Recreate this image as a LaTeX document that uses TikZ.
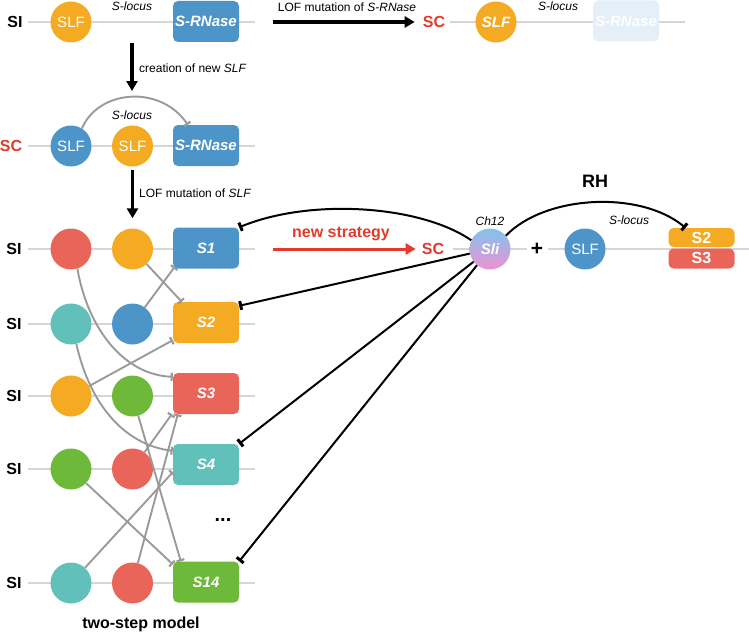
\documentclass[tikz,border=0pt]{standalone}
\usepackage{fontspec}
\setmainfont{Liberation Sans}
\usepackage{xcolor}
\usepackage{tikz}
\usetikzlibrary{arrows.meta}

\definecolor{sorange}{HTML}{F4AA22}
\definecolor{sblue}{HTML}{4D94C9}
\definecolor{sred}{HTML}{E9655A}
\definecolor{steal}{HTML}{62C0BB}
\definecolor{sgreen}{HTML}{6EB83A}
\definecolor{scred}{HTML}{E33A2C}
\definecolor{locusgray}{HTML}{D6D6D6}
\definecolor{linkgray}{HTML}{9A9A9A}
\definecolor{ghost}{HTML}{E5EFF8}
\definecolor{slitop}{HTML}{80C4EC}
\definecolor{slibot}{HTML}{EE90D2}

\newcommand{\fsz}[1]{\fontsize{#1}{#1}\selectfont}

\begin{document}
\begin{tikzpicture}[x=1pt,y=-1pt,
		gene/.style={circle,minimum size=41pt,inner sep=0pt,text=white,font=\fsz{15}},
		sbox/.style={rounded corners=5pt,minimum width=66pt,minimum height=41pt,inner sep=0pt,text=white,font=\fsz{15}\bfseries\itshape},
		locus/.style={locusgray,line width=2pt},
		tag/.style={inner sep=0pt,font=\fsz{16}\bfseries},
		note/.style={inner sep=0pt,font=\fsz{12}\itshape},
		say/.style={inner sep=0pt,font=\fsz{12}},
		link/.style={linkgray,line width=1.9pt,-{Bar[width=8pt,line width=2.2pt]}},
		block/.style={line width=2pt,-{Bar[width=9pt,line width=3pt]}},
		go/.style={line width=3.5pt,-{Triangle[length=10pt,width=11pt]}}]
		\useasboundingbox (0,0) rectangle (749,634);
		% chromosome lines
		\draw[locus] (28,22) -- (255,22);
		\draw[locus] (450,22) -- (685,22);
		\draw[locus] (28,146) -- (255,146);
		\draw[locus] (28,249) -- (255,249);
		\draw[locus] (28,324) -- (255,324);
		\draw[locus] (28,396) -- (255,396);
		\draw[locus] (28,469) -- (255,469);
		\draw[locus] (28,583) -- (255,583);
		\draw[locus] (453,249) -- (527,249);
		\draw[locus] (548,249) -- (749,249);

		% top row
		\node[tag] (siA) at (15,22) {SI};
		\node[gene,fill=sorange] (slfA) at (71,22) {SLF};
		\node[sbox,fill=sblue] (rnA) at (206,21.5) {S-RNase};
		\node[note] at (132,6) {S-locus};
		\coordinate (lofA) at (273,22);
		\node[tag,text=scred] (scC) at (434,22) {SC};
		\node[gene,fill=sorange,font=\fsz{15}\bfseries\itshape] (slfC) at (496,22) {SLF};
		\node[sbox,fill=ghost] (rnC) at (626,21) {S-RNase};
		\node[note] at (558,6) {S-locus};
		\draw[go] (lofA) -- (scC.west) [shorten >=8pt];
		\node[say] at (347,7) {LOF mutation of \textit{S-RNase}};

		\coordinate (dnA) at (132,43);
		\coordinate (dnB) at (132,91);
		\draw[go] (dnA) -- (dnB);
		\node[say,anchor=west] at (139,68) {creation of new \textit{SLF}};

		% SC row
		\node[tag,text=scred] (scB) at (11,146) {SC};
		\node[gene,fill=sblue] (slfB1) at (71,146) {SLF};
		\node[gene,fill=sorange] (slfB2) at (132.5,146) {SLF};
		\node[sbox,fill=sblue] (rnB) at (206,145.5) {S-RNase};
		\node[note] at (132,115) {S-locus};
		\draw[link] (slfB1.58) .. controls (98,90) and (160,84) .. ([xshift=15pt]rnB.north west);

		% two-step model rows
		\node[tag] (si1) at (14,249) {SI};
		\node[gene,fill=sred] (a1) at (71,249) {};
		\node[gene,fill=sorange] (b1) at (132.5,249) {};
		\node[sbox,fill=sblue] (s1) at (206,248) {S1};
		\node[tag] (si2) at (14,324) {SI};
		\node[gene,fill=steal] (a2) at (71,324) {};
		\node[gene,fill=sblue] (b2) at (132.5,324) {};
		\node[sbox,fill=sorange] (s2) at (206,322.5) {S2};
		\node[tag] (si3) at (14,396) {SI};
		\node[gene,fill=sorange] (a3) at (71,396) {};
		\node[gene,fill=sgreen] (b3) at (132.5,396) {};
		\node[sbox,fill=sred] (s3) at (206,393.5) {S3};
		\node[tag] (si4) at (14,469) {SI};
		\node[gene,fill=sgreen] (a4) at (71,469) {};
		\node[gene,fill=sred] (b4) at (132.5,469) {};
		\node[sbox,fill=steal] (s4) at (206,464.5) {S4};
		\node[tag] (si14) at (14,583) {SI};
		\node[gene,fill=steal] (a14) at (71,583) {};
		\node[gene,fill=sred] (b14) at (132.5,583) {};
		\node[sbox,fill=sgreen] (s14) at (206,582) {S14};
		\node[tag,font=\fsz{20}\bfseries] at (223,520) {...};
		\node[tag] at (141,624) {two-step model};
		\draw[go] (slfB2) -- (b1) [shorten <=3.5pt,shorten >=10pt];
		\node[say,anchor=west] at (139,193) {LOF mutation of \textit{SLF}};

		\draw[link] (a1.-72) .. controls (88,330) and (125,375) .. ([yshift=-4pt]s3.north west);
		\draw[link] (b1) -- ([xshift=9pt]s2.north west);
		\draw[link] (b2) -- ([xshift=2pt,yshift=2pt]s1.south west);
		\draw[link] (a2.-75) .. controls (90,405) and (125,445) .. ([yshift=-7pt]s4.north west);
		\draw[link] (a3) -- ([yshift=3pt]s2.south west);
		\draw[link] (b3) -- ([xshift=8pt]s14.north west);
		\draw[link] (b4) -- ([xshift=-1pt]s3.south west);
		\draw[link] (b14) -- ([xshift=5pt]s3.south west);
		\draw[link] (a4) -- ([yshift=-3pt]s14.north west);
		\draw[link] (a14) -- ([yshift=13pt]s4.south west);

		% new strategy
		\coordinate (nsA) at (273,249);
		\node[tag,text=scred] (scD) at (433,249) {SC};
		\draw[go,scred,line width=3pt] (nsA) -- (scD.west) [shorten >=6pt];
		\node[tag,text=scred] at (341,234) {new strategy};
		\node[gene,top color=slitop,bottom color=slibot,font=\fsz{15}\bfseries\itshape] (sli) at (490,249) {Sli};
		\node[note] at (490,221) {Ch12};
		\node[tag,font=\fsz{21}\bfseries] at (537,249) {+};
		\node[gene,fill=sblue] (slfD) at (585,249) {SLF};
		\node[note] at (629,220) {S-locus};
		\node[sbox,fill=sorange,minimum height=19pt,font=\fsz{16}\bfseries] (rS2) at (701.5,237.5) {S2};
		\node[sbox,fill=sred,minimum height=20pt,font=\fsz{16}\bfseries] (rS3) at (701.5,258.5) {S3};
		\node[tag,font=\fsz{18}\bfseries] at (595,181) {RH};

		\draw[block] (sli.155) .. controls (420,205) and (310,198) .. (s1.north east);
		\draw[block] (sli) -- ([yshift=-4pt]s2.north east);
		\draw[block] (sli) -- (s4.north east);
		\draw[block] (sli) -- (s14.north east);
		\draw[block] (sli.40) .. controls (545,195) and (640,190) .. ([xshift=-16pt]rS2.north);
	\end{tikzpicture}
\end{document}
